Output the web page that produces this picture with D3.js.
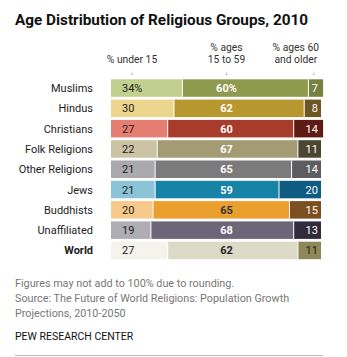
<!DOCTYPE html>
<html>
<head>
<meta charset="utf-8">
<script src="https://cdn.jsdelivr.net/npm/d3@7"></script>
<style>
  body { margin: 0; background: #fff; }
  text { font-family: Roboto, "Liberation Sans", sans-serif; }
</style>
</head>
<body>
<div id="chart"></div>
<script>
// data
var groups = ["Muslims", "Hindus", "Christians", "Folk Religions", "Other Religions",
              "Jews", "Buddhists", "Unaffiliated", "World"];
var under15 = [34, 30, 27, 22, 21, 21, 20, 19, 27];
var ages15to59 = [60, 62, 60, 67, 65, 59, 65, 68, 62];
var ages60plus = [7, 8, 14, 11, 14, 20, 15, 13, 11];

// colours per group: light / mid / dark
var lightCol = ["#c3cf8e", "#ecd58d", "#e57d72", "#cbc3a3", "#a9a9ae", "#8bc3d7", "#f7ca8c", "#aeacb5", "#f4f3ec"];
var midCol   = ["#8e9a4e", "#b9972f", "#a73b2c", "#a29b73", "#7b7b7b", "#1683a7", "#eb9f2e", "#6d6679", "#dcd9c7"];
var darkCol  = ["#77813f", "#6c5622", "#5e1b14", "#4b4631", "#5c5c61", "#0f5b81", "#7b4f1f", "#302c3e", "#8e8757"];
var midText  = ["#fff", "#fff", "#fff", "#fff", "#fff", "#fff", "#333", "#fff", "#222"];
var darkText = ["#fff", "#fff", "#fff", "#fff", "#fff", "#fff", "#fff", "#fff", "#222"];

var width = 347, height = 357;

var svg = d3.select("#chart")
    .append("svg")
    .attr("width", width)
    .attr("height", height);

var x = d3.scaleLinear().domain([0, 100]).range([111, 321]);
var y = d3.scaleBand().domain(groups).range([79.3, 259.2]).paddingInner(0.138);

// title
svg.append("text")
    .attr("x", 15).attr("y", 25)
    .style("font-size", "15.3px")
    .style("font-weight", "bold")
    .style("fill", "#111")
    .text("Age Distribution of Religious Groups, 2010");

// column headers
var headers = [
    { pos: 10, lines: ["% under 15"] },
    { pos: 55, lines: ["% ages", "15 to 59"] },
    { pos: 88, lines: ["% ages 60", "and older"] }
];
var arrowPos = [10, 55, 96.5];
headers.forEach(function (h, i) {
    var n = h.lines.length;
    h.lines.forEach(function (l, j) {
        svg.append("text")
            .attr("x", x(h.pos))
            .attr("y", 63 - (n - 1 - j) * 12)
            .attr("text-anchor", "middle")
            .style("font-size", "10.3px")
            .style("fill", "#333")
            .text(l);
    });
    svg.append("text")
        .attr("x", x(arrowPos[i]))
        .attr("y", 75)
        .attr("text-anchor", "middle")
        .style("font-size", "6px")
        .style("fill", "#555")
        .text("↓");
});

var rows = svg.selectAll("g.row")
    .data(groups)
    .enter().append("g")
    .attr("class", "row")
    .attr("transform", function (d) { return "translate(0," + y(d) + ")"; });

var bh = y.bandwidth();

// group labels
rows.append("text")
    .attr("x", 93)
    .attr("y", bh / 2 + 4)
    .attr("text-anchor", "end")
    .style("font-size", "11px")
    .style("font-weight", function (d) { return d === "World" ? "bold" : "normal"; })
    .style("fill", "#222")
    .text(function (d) { return d; });

// segments
rows.append("rect")
    .attr("x", function (d, i) { return x(0); })
    .attr("y", 0)
    .attr("width", function (d, i) { return x(under15[i]) - x(0); })
    .attr("height", bh)
    .style("fill", function (d, i) { return lightCol[i]; });

rows.append("rect")
    .attr("x", function (d, i) { return x(under15[i]); })
    .attr("y", 0)
    .attr("width", function (d, i) { return x(ages15to59[i]) - x(0); })
    .attr("height", bh)
    .style("fill", function (d, i) { return midCol[i]; });

rows.append("rect")
    .attr("x", function (d, i) { return x(under15[i] + ages15to59[i]); })
    .attr("y", 0)
    .attr("width", function (d, i) { return x(ages60plus[i]) - x(0); })
    .attr("height", bh)
    .style("fill", function (d, i) { return darkCol[i]; });

// white separators
rows.append("line")
    .attr("x1", function (d, i) { return x(under15[i]); })
    .attr("x2", function (d, i) { return x(under15[i]); })
    .attr("y1", 0).attr("y2", bh)
    .style("stroke", "#fff").style("stroke-width", 1);
rows.append("line")
    .attr("x1", function (d, i) { return x(under15[i] + ages15to59[i]); })
    .attr("x2", function (d, i) { return x(under15[i] + ages15to59[i]); })
    .attr("y1", 0).attr("y2", bh)
    .style("stroke", "#fff").style("stroke-width", 1);

// value labels
rows.append("text")
    .attr("x", x(0) + 11)
    .attr("y", bh / 2 + 4)
    .style("font-size", "11px")
    .style("fill", "#222")
    .text(function (d, i) { return i === 0 ? under15[i] + "%" : under15[i]; });

rows.append("text")
    .attr("x", x(55))
    .attr("y", bh / 2 + 4)
    .attr("text-anchor", "middle")
    .style("font-size", "11px")
    .style("font-weight", "bold")
    .style("fill", function (d, i) { return midText[i]; })
    .text(function (d, i) { return i === 0 ? ages15to59[i] + "%" : ages15to59[i]; });

rows.append("text")
    .attr("x", x(98.5))
    .attr("y", bh / 2 + 4)
    .attr("text-anchor", "end")
    .style("font-size", "11px")
    .style("fill", function (d, i) { return darkText[i]; })
    .text(function (d, i) { return ages60plus[i]; });

// notes
var notes = ["Figures may not add to 100% due to rounding.",
             "Source: The Future of World Religions: Population Growth",
             "Projections, 2010-2050"];
notes.forEach(function (t, i) {
    svg.append("text")
        .attr("x", 15)
        .attr("y", 287 + i * 15)
        .style("font-size", "10.8px")
        .style("fill", "#777")
        .text(t);
});

svg.append("text")
    .attr("x", 15)
    .attr("y", 340)
    .style("font-size", "10.5px")
    .style("fill", "#111")
    .text("PEW RESEARCH CENTER");

svg.append("line")
    .attr("x1", 15).attr("x2", 323)
    .attr("y1", 355.5).attr("y2", 355.5)
    .style("stroke", "#bbb")
    .style("stroke-width", 1);
</script>
</body>
</html>
